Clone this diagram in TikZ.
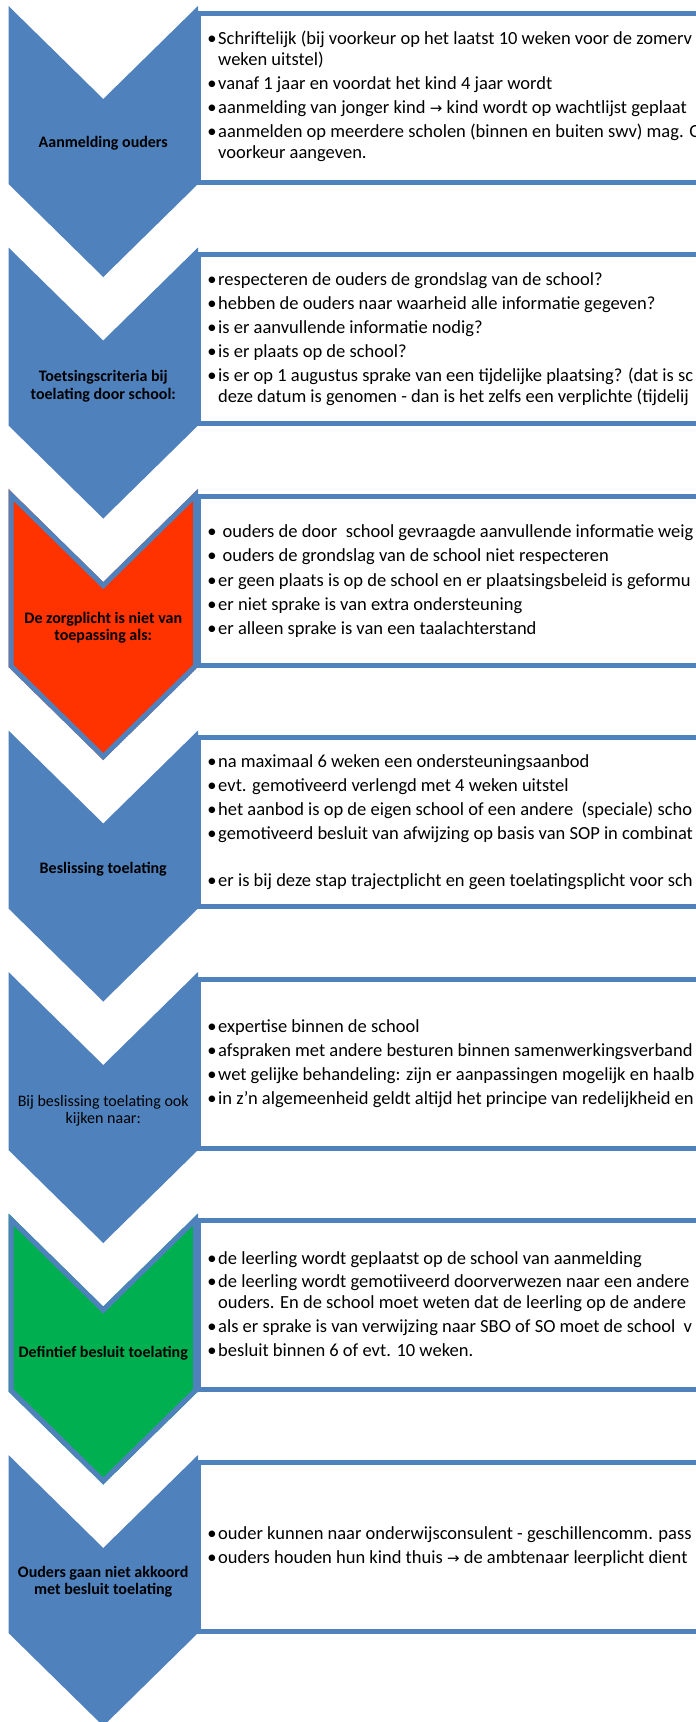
\documentclass[tikz,border=0pt]{standalone}
\usepackage{fontspec}
\setmainfont{Carlito}
\newfontfamily\arrowfont{DejaVu Sans}
\definecolor{cblue}{HTML}{4F81BD}
\definecolor{cred}{HTML}{FF3300}
\definecolor{cgreen}{HTML}{00B050}
\newcommand\bline[3]{\node[bul] (#1b) at (212,#2) {\textbullet};\node[txt] (#1) at (218,#2) {#3};}
\newcommand\wline[3]{\node[txt] (#1) at (218,#2) {#3};}
\newcommand\ar{{\arrowfont\fontsize{15}{16}\selectfont →}}
\tikzset{
  txt/.style={anchor=base west, inner sep=0pt, font=\fontsize{18.5}{20}\selectfont},
  bul/.style={anchor=base, inner sep=0pt, font=\fontsize{18.5}{20}\selectfont},
  lab/.style={anchor=base, inner sep=0pt, font=\fontsize{16}{17}\selectfont\bfseries},
  labr/.style={anchor=base, inner sep=0pt, font=\fontsize{16}{17}\selectfont},
  boxline/.style={draw=cblue, line width=5pt, fill=white},
}
\begin{document}
\begin{tikzpicture}[x=1pt,y=-1pt]
\clip (0,0) rectangle (696,1722);
\fill[white] (0,0) rectangle (696,1722);
% boxes
\foreach \T in {6,247.5,489,730.5,972,1213.5,1455}{
  \draw[boxline] (198,{\T+7}) rectangle (730,{\T+176});
}
% chevrons
\foreach \T in {6,247.5,730.5,972,1455}{
  \fill[cblue] (8.5,\T) -- (103.25,{\T+93}) -- (198,\T) -- (198,{\T+178}) -- (103.25,{\T+271}) -- (8.5,{\T+178}) -- cycle;
}
\foreach \T/\c in {489/cred,1213.5/cgreen}{
  \begin{scope}
    \clip (8.5,\T) -- (103.25,{\T+93}) -- (198,\T) -- (198,{\T+178}) -- (103.25,{\T+271}) -- (8.5,{\T+178}) -- cycle;
    \fill[\c] (8.5,\T) -- (103.25,{\T+93}) -- (198,\T) -- (198,{\T+178}) -- (103.25,{\T+271}) -- (8.5,{\T+178}) -- cycle;
    \draw[cblue, line width=10pt, line join=miter] (8.5,\T) -- (103.25,{\T+93}) -- (198,\T) -- (198,{\T+178}) -- (103.25,{\T+271}) -- (8.5,{\T+178}) -- cycle;
  \end{scope}
}
% labels
\node[lab] (l1) at (103.25,147) {Aanmelding ouders};
\node[lab] (l2a) at (103.25,381.5) {Toetsingscriteria bij};
\node[lab] (l2b) at (103.25,399) {toelating door school:};
\node[lab] (l3a) at (103.25,623) {De zorgplicht is niet van};
\node[lab] (l3b) at (103.25,640) {toepassing als:};
\node[lab] (l4) at (103.25,873) {Beslissing toelating};
\node[labr] (l5a) at (103.25,1106) {Bij beslissing toelating ook};
\node[labr] (l5b) at (103.25,1123) {kijken naar:};
\node[lab] (l6) at (103.25,1357) {Defintief besluit toelating};
\node[lab] (l7a) at (103.25,1577) {Ouders gaan niet akkoord};
\node[lab] (l7b) at (103.25,1594) {met besluit toelating};
% box 1
\bline{a1}{44}{Schriftelijk (bij voorkeur op het laatst 10 weken voor de zomerv}
\wline{a1w}{65}{weken uitstel)}
\bline{a2}{89}{vanaf 1 jaar en voordat het kind 4 jaar wordt}
\bline{a3}{113}{aanmelding van jonger kind \ar{} kind wordt op wachtlijst geplaat}
\bline{a4}{137}{aanmelden op meerdere scholen (binnen en buiten swv) mag. O}
\wline{a4w}{158}{voorkeur aangeven.}
% box 2
\bline{b1}{285.5}{respecteren de ouders de grondslag van de school?}
\bline{b2}{309}{hebben de ouders naar waarheid alle informatie gegeven?}
\bline{b3}{333}{is er aanvullende informatie nodig?}
\bline{b4}{357}{is er plaats op de school?}
\bline{b5}{381.5}{is er op 1 augustus sprake van een tijdelijke plaatsing? (dat is sc}
\wline{b5w}{402.5}{deze datum is genomen - dan is het zelfs een verplichte (tijdelij}
% box 3
\node[bul] (c1b) at (212,537.5) {\textbullet};
\node[txt] (c1) at (222.5,537.5) {ouders de door~ school gevraagde aanvullende informatie weig};
\node[bul] (c2b) at (212,561.5) {\textbullet};
\node[txt] (c2) at (222.5,561.5) {ouders de grondslag van de school niet respecteren};
\bline{c3}{586}{er geen plaats is op de school en er plaatsingsbeleid is geformu}
\bline{c4}{610}{er niet sprake is van extra ondersteuning}
\bline{c5}{634}{er alleen sprake is van een taalachterstand}
% box 4
\bline{d1}{767.5}{na maximaal 6 weken een ondersteuningsaanbod}
\bline{d2}{791.5}{evt. gemotiveerd verlengd met 4 weken uitstel}
\bline{d3}{815.5}{het aanbod is op de eigen school of een andere~ (speciale) scho}
\bline{d4}{839.5}{gemotiveerd besluit van afwijzing op basis van SOP in combinat}
\bline{d5}{886.5}{er is bij deze stap trajectplicht en geen toelatingsplicht voor sch}
% box 5
\bline{e1}{1032.5}{expertise binnen de school}
\bline{e2}{1056.5}{afspraken met andere besturen binnen samenwerkingsverband}
\bline{e3}{1080.5}{wet gelijke behandeling: zijn er aanpassingen mogelijk en haalb}
\bline{e4}{1104.5}{in z'n algemeenheid geldt altijd het principe van redelijkheid en}
% box 6
\bline{f1}{1264.5}{de leerling wordt geplaatst op de school van aanmelding}
\bline{f2}{1287.5}{de leerling wordt gemotiiveerd doorverwezen naar een andere}
\wline{f2w}{1308.5}{ouders. En de school moet weten dat de leerling op de andere}
\bline{f3}{1332.5}{als er sprake is van verwijzing naar SBO of SO moet de school~ v}
\bline{f4}{1356.5}{besluit binnen 6 of evt. 10 weken.}
% box 7
\bline{g1}{1539.5}{ouder kunnen naar onderwijsconsulent - geschillencomm. pass}
\bline{g2}{1563.5}{ouders houden hun kind thuis \ar{} de ambtenaar leerplicht dient}
\end{tikzpicture}
\end{document}
